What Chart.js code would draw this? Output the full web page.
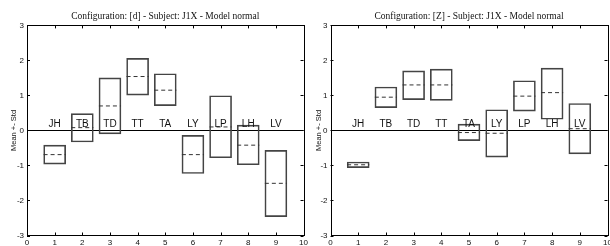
<!DOCTYPE html>
<html>
<head>
<meta charset="utf-8">
<script src="https://cdn.jsdelivr.net/npm/chart.js@4"></script>
<style>
  html, body { margin: 0; padding: 0; background: #fff; overflow: hidden; }
  #wrap { position: relative; width: 610px; height: 246px; }
  canvas { position: absolute; top: 0; }
  #chartD { left: 0; }
  #chartZ { left: 305px; }
</style>
</head>
<body>
<div id="wrap">
  <canvas id="chartD" width="310" height="246"></canvas>
  <canvas id="chartZ" width="310" height="246"></canvas>
</div>
<script>
// Categorias (muscles) y posiciones en el eje x
const categories = ['JH', 'TB', 'TD', 'TT', 'TA', 'LY', 'LP', 'LH', 'LV'];
const positions = [1, 2, 3, 4, 5, 6, 7, 8, 9];

// Configuracion [d] - media, media - std, media + std
const meanD = [-0.69, 0.08, 0.70, 1.54, 1.15, -0.69, 0.10, -0.42, -1.51];
const lowD = [-0.96, -0.33, -0.10, 1.01, 0.71, -1.23, -0.78, -0.98, -2.46];
const highD = [-0.42, 0.48, 1.50, 2.06, 1.62, -0.14, 0.99, 0.15, -0.57];

// Configuracion [Z]
const meanZ = [-0.98, 0.95, 1.30, 1.30, -0.06, -0.08, 0.98, 1.08, 0.05];
const lowZ = [-1.06, 0.65, 0.88, 0.86, -0.29, -0.76, 0.55, 0.32, -0.67];
const highZ = [-0.90, 1.24, 1.70, 1.75, 0.18, 0.59, 1.42, 1.78, 0.77];

// Ticks
const xTicks = [0, 1, 2, 3, 4, 5, 6, 7, 8, 9, 10];
const yTicks = [-3, -2, -1, 0, 1, 2, 3];

const halfWidth = 0.4;

// Marco, ticks hacia dentro y etiquetas de categoria
const framePlugin = {
  id: 'frame',
  afterDatasetsDraw(chart) {
    const { ctx, chartArea: a, scales: { x, y } } = chart;
    ctx.save();
    ctx.fillStyle = '#111';
    ctx.font = '10px "Liberation Sans", Arial, sans-serif';
    ctx.textAlign = 'center';
    ctx.textBaseline = 'alphabetic';
    const y0 = y.getPixelForValue(0);
    categories.forEach((c, i) => {
      ctx.fillText(c, x.getPixelForValue(positions[i]), y0 - 3);
    });
    ctx.strokeStyle = '#000';
    ctx.lineWidth = 1;
    ctx.beginPath();
    xTicks.forEach(v => {
      const px = Math.round(x.getPixelForValue(v)) + 0.5;
      ctx.moveTo(px, a.bottom); ctx.lineTo(px, a.bottom - 3);
      ctx.moveTo(px, a.top); ctx.lineTo(px, a.top + 3);
    });
    yTicks.forEach(v => {
      const py = Math.round(y.getPixelForValue(v)) + 0.5;
      ctx.moveTo(a.left, py); ctx.lineTo(a.left + 3, py);
      ctx.moveTo(a.right, py); ctx.lineTo(a.right - 3, py);
    });
    ctx.stroke();
    ctx.strokeRect(Math.round(a.left) + 0.5, Math.round(a.top) + 0.5,
      Math.round(a.right - a.left), Math.round(a.bottom - a.top));
    ctx.restore();
  }
};

function makeChart(id, config, low, high, mean, padLeft, padRight) {
  // Lineas de la media (discontinuas), separadas por huecos
  const meanLine = [];
  positions.forEach((p, i) => {
    meanLine.push({ x: p - halfWidth, y: mean[i] });
    meanLine.push({ x: p + halfWidth, y: mean[i] });
    meanLine.push({ x: p, y: null });
  });

  return new Chart(document.getElementById(id).getContext('2d'), {
    type: 'bar',
    data: {
      datasets: [{
        type: 'line',
        data: meanLine,
        borderColor: '#333',
        borderWidth: 1,
        borderDash: [4, 3],
        pointRadius: 0,
        spanGaps: false,
        tension: 0
      }, {
        type: 'bar',
        data: positions.map((p, i) => ({ x: p, y: [low[i], high[i]] })),
        backgroundColor: 'rgba(0,0,0,0)',
        borderColor: '#444',
        borderWidth: 1,
        borderSkipped: false,
        barThickness: 22
      }]
    },
    plugins: [framePlugin],
    options: {
      responsive: false,
      animation: false,
      devicePixelRatio: 1,
      layout: { padding: { left: 0, right: padRight, bottom: 0 } },
      plugins: {
        legend: { display: false },
        tooltip: { enabled: false },
        title: {
          display: true,
          fullSize: false,
          text: 'Configuration: [' + config + '] - Subject: J1X - Model normal',
          color: '#111',
          font: { family: '"Liberation Serif", "Times New Roman", serif', size: 9.5, weight: 'normal' },
          padding: { top: 11, bottom: 3 }
        }
      },
      scales: {
        x: {
          type: 'linear',
          min: 0,
          max: 10,
          offset: false,
          afterBuildTicks: s => { s.ticks = xTicks.map(v => ({ value: v })); },
          afterFit: s => { s.height = 10.5; },
          grid: { display: false, drawTicks: false },
          border: { display: false },
          ticks: {
            color: '#111',
            padding: 2,
            maxRotation: 0,
            autoSkip: false,
            font: { family: '"Liberation Sans", Arial, sans-serif', size: 8 }
          }
        },
        y: {
          min: -3,
          max: 3,
          afterBuildTicks: s => { s.ticks = yTicks.map(v => ({ value: v })); },
          afterFit: s => { s.width = padLeft; },
          grid: {
            drawTicks: false,
            color: c => (c.tick && c.tick.value === 0 ? '#000' : 'rgba(0,0,0,0)'),
            lineWidth: 1
          },
          border: { display: false },
          title: {
            display: true,
            text: 'Mean +- Std',
            color: '#111',
            padding: { top: 9, bottom: 0 },
            font: { family: '"Liberation Sans", Arial, sans-serif', size: 7.5 }
          },
          ticks: {
            color: '#111',
            padding: 3,
            font: { family: '"Liberation Sans", Arial, sans-serif', size: 8 }
          }
        }
      }
    }
  });
}

makeChart('chartD', 'd', lowD, highD, meanD, 27, 4.5);
makeChart('chartZ', 'Z', lowZ, highZ, meanZ, 25.5, 7.5);
</script>
</body>
</html>
